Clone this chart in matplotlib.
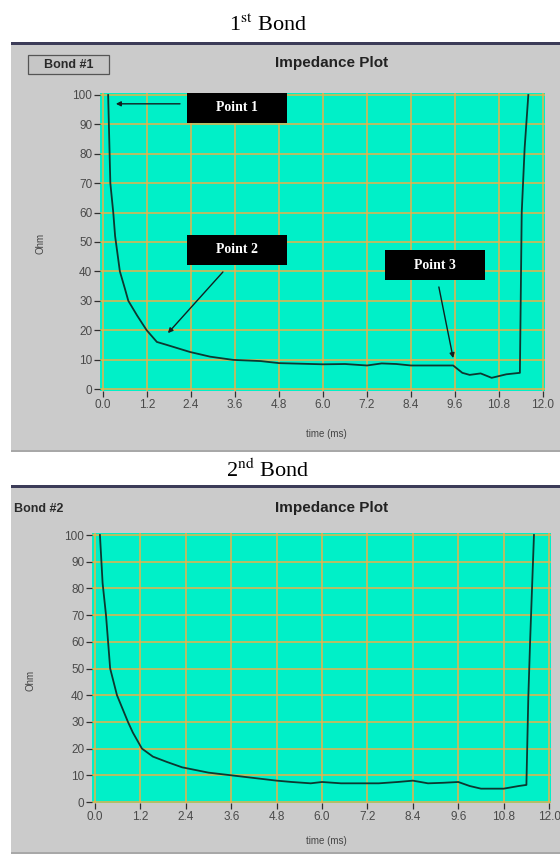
import matplotlib
matplotlib.use("Agg")
import matplotlib.pyplot as plt
from matplotlib.patches import Rectangle
import numpy as np

W, H = 560, 856

# impedance traces
t1 = [0.14, 0.17, 0.2, 0.28, 0.33, 0.46, 0.6, 0.69, 0.93, 1.19, 1.47, 1.74, 2.37,
      2.92, 3.55, 4.3, 4.8, 5.4, 6.0, 6.6, 7.2, 7.6, 8.0, 8.4, 9.0, 9.55, 9.8,
      10.0, 10.3, 10.6, 11.0, 11.37, 11.42, 11.5, 11.6]
z1 = [100, 85, 70, 60, 52, 40, 34, 30, 25, 20, 16, 15, 12.6,
      11, 9.9, 9.5, 8.8, 8.6, 8.4, 8.5, 8.0, 8.7, 8.5, 8.0, 8.0, 8.0, 5.5,
      4.8, 5.3, 3.8, 5.0, 5.5, 60, 82, 100]

t2 = [0.13, 0.2, 0.29, 0.4, 0.58, 0.87, 1.0, 1.24, 1.53, 1.9, 2.3, 3.0, 3.6,
      4.2, 4.8, 5.2, 5.7, 6.0, 6.5, 7.0, 7.5, 8.0, 8.4, 8.8, 9.2, 9.6, 9.9,
      10.2, 10.8, 11.2, 11.4, 11.45, 11.5, 11.6]
z2 = [100, 82, 70, 50, 40, 30, 26, 20, 17, 15, 13, 11, 10,
      9, 8, 7.5, 7.0, 7.5, 7.0, 7.0, 7.0, 7.5, 8.0, 7.0, 7.2, 7.5, 6.0,
      5.0, 5.0, 6.0, 6.4, 39, 61, 100]

xticks = [0.0, 1.2, 2.4, 3.6, 4.8, 6.0, 7.2, 8.4, 9.6, 10.8, 12.0]
yticks = [0, 10, 20, 30, 40, 50, 60, 70, 80, 90, 100]

# callouts on the first bond: label, box corner (t, ohm), arrow start, arrow tip
notes = [("Point 1", (2.29, 90.5), (2.1, 97), (0.35, 97)),
         ("Point 2", (2.29, 42.2), (3.27, 39.8), (1.77, 19)),
         ("Point 3", (7.69, 37.0), (9.16, 34.7), (9.55, 10.5))]

GRAY = "#cbcbcb"
CYAN = "#00f0c8"
ORANGE = "#eeb048"
TRACE = "#0c3830"

plt.rcParams["font.family"] = ["Liberation Sans", "DejaVu Sans"]
plt.rcParams["mathtext.fontset"] = "stix"

fig = plt.figure(figsize=(W / 100, H / 100), dpi=100)
fig.patch.set_facecolor("white")


def fx(x):
    return x / W


def fy(y):
    return 1 - y / H


def rect(x0, y0, x1, y1, z=-3, **kw):
    fig.patches.append(Rectangle((fx(x0), fy(y1)), fx(x1 - x0), (y1 - y0) / H,
                                 transform=fig.transFigure, zorder=z, **kw))


def panel(x0, y0, x1, y1):
    rect(x0, y0, x1, y1, fc=GRAY, ec="none")
    # dark rule on top, soft shadow at the bottom
    rect(x0, y0, x1, y0 + 3, z=-2, fc="#3c3c58", ec="none")
    rect(x0, y1 - 2, x1, y1, z=-2, fc="#a8a8a8", ec="none")


def plot_axes(box, xlim, ylim, t, z):
    x0, y0, x1, y1 = box
    ax = fig.add_axes([fx(x0), fy(y1), fx(x1 - x0), (y1 - y0) / H])
    ax.set_facecolor(CYAN)
    ax.set_xlim(*xlim)
    ax.set_ylim(*ylim)
    ax.set_xticks(xticks)
    ax.set_xticklabels(["%.1f" % v for v in xticks])
    ax.set_yticks(yticks)
    for s in ax.spines.values():
        s.set_visible(False)
    ax.grid(True, color=ORANGE, lw=1.08, snap=True)
    ax.set_axisbelow(True)
    ax.tick_params(axis="both", direction="out", length=4, width=0.9,
                   color="#303030", labelsize=8.5, labelcolor="#4a4a4a", pad=1.5)
    ax.plot(t, z, color=TRACE, lw=1.3, zorder=3)
    return ax


# first bond
panel(11, 42, 560, 452)
fig.text(fx(268), fy(25), r"1$^{\mathrm{st}}$ Bond", ha="center", va="center",
         family="Liberation Serif", fontsize=16)
rect(28, 55, 109, 74, z=-1, fc="#c6c6c6", ec="#555555", lw=0.9)
fig.text(fx(68.5), fy(64.5), "Bond #1", ha="center", va="center", fontsize=9,
         weight="bold", color="#2a2a2a")
fig.text(fx(332), fy(63), "Impedance Plot", ha="center", va="center",
         fontsize=11, weight="bold", color="#222222")

ax1 = plot_axes((100, 93, 545, 391), (-0.082, 12.055), (-0.68, 100.68), t1, z1)
fig.text(fx(40), fy(243), "Ohm", rotation=90, ha="center", va="center",
         fontsize=7, color="#444444")
fig.text(fx(326), fy(434), "time (ms)", ha="center", va="center",
         fontsize=7, color="#444444")

for label, corner, start, tip in notes:
    ax1.add_patch(Rectangle(corner, 2.73, 10.2, fc="black", ec="none",
                            zorder=5, clip_on=False))
    ax1.text(corner[0] + 1.365, corner[1] + 5.1, label, ha="center", va="center",
             family="Liberation Serif", weight="bold", fontsize=10,
             color="white", zorder=6)
    ax1.annotate("", xy=tip, xytext=start, zorder=6,
                 arrowprops=dict(arrowstyle="-|>", color="#102020", lw=1.0,
                                 mutation_scale=7, shrinkA=0, shrinkB=0))

# second bond
panel(11, 485, 560, 854)
fig.text(fx(268), fy(470), r"2$^{\mathrm{nd}}$ Bond", ha="center", va="center",
         family="Liberation Serif", fontsize=16)
fig.text(fx(14), fy(509), "Bond #2", ha="left", va="center", fontsize=9,
         weight="bold", color="#2a2a2a")
fig.text(fx(332), fy(508), "Impedance Plot", ha="center", va="center",
         fontsize=11, weight="bold", color="#222222")

ax2 = plot_axes((92, 533, 551, 803), (-0.08, 12.05), (-0.37, 100.75), t2, z2)
fig.text(fx(30), fy(680), "Ohm", rotation=90, ha="center", va="center",
         fontsize=7, color="#444444")
fig.text(fx(326), fy(841), "time (ms)", ha="center", va="center",
         fontsize=7, color="#444444")

fig.savefig("out.png", dpi=100)
